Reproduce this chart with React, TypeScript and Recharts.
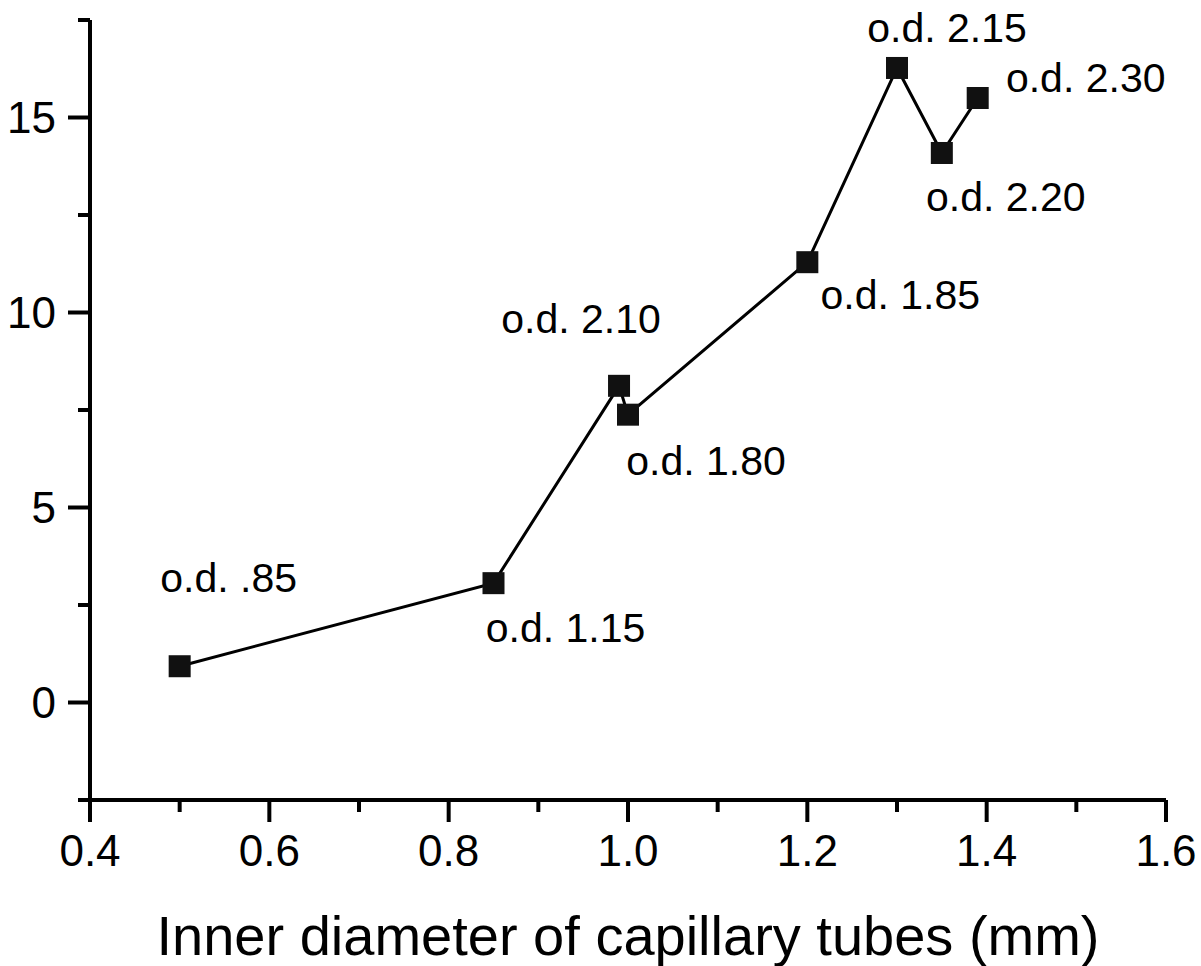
import { LineChart, Line, XAxis, YAxis, Label, LabelList } from 'recharts'

// values
const innerDiameter = [0.5, 0.85, 0.99, 1.0, 1.2, 1.3, 1.35, 1.39]
const values = [0.93, 3.06, 8.12, 7.38, 11.29, 16.27, 14.09, 15.5]
const outerDiameter = [
  'o.d. .85',
  'o.d. 1.15',
  'o.d. 2.10',
  'o.d. 1.80',
  'o.d. 1.85',
  'o.d. 2.15',
  'o.d. 2.20',
  'o.d. 2.30',
]

const xTicks = [0.4, 0.5, 0.6, 0.7, 0.8, 0.9, 1.0, 1.1, 1.2, 1.3, 1.4, 1.5, 1.6]
const yTicks = [-2.5, 0, 2.5, 5, 7.5, 10, 12.5, 15, 17.5]

// where each annotation sits relative to its marker (dx, dy of the baseline centre)
const labelOffsets: [number, number][] = [
  [49, -74],
  [72, 59],
  [-38, -53],
  [78, 60],
  [93, 47],
  [50, -26],
  [64, 58],
  [108, -6],
]

const data = innerDiameter.map((x, i) => ({ x, y: values[i], od: outerDiameter[i] }))

const font = '"Liberation Sans", Arial, Helvetica, sans-serif'

function XTick(props: any) {
  const { x, y, payload } = props
  const v = payload.value as number
  const major = Math.round(v * 10) % 2 === 0
  return (
    <g>
      <line x1={x} y1={y} x2={x} y2={y + (major ? 22 : 12)} stroke="#000" strokeWidth={4} />
      {major && (
        <text x={x} y={y + 66} textAnchor="middle" fontSize={44} fontFamily={font} fill="#000">
          {v.toFixed(1)}
        </text>
      )}
    </g>
  )
}

function YTick(props: any) {
  const { x, y, payload } = props
  const v = payload.value as number
  const major = v % 5 === 0
  return (
    <g>
      <line x1={x} y1={y} x2={x - (major ? 22 : 12)} y2={y} stroke="#000" strokeWidth={4} />
      {major && (
        <text x={x - 34} y={y + 15} textAnchor="end" fontSize={44} fontFamily={font} fill="#000">
          {v}
        </text>
      )}
    </g>
  )
}

function SquareDot(props: any) {
  const { cx, cy, index } = props
  if (cx == null || cy == null) return <g key={`d-${index}`} />
  return <rect key={`d-${index}`} x={cx - 11} y={cy - 11} width={22} height={22} fill="#111" />
}

function OdLabel(props: any) {
  const { x, y, value } = props
  const i = outerDiameter.indexOf(value)
  const [dx, dy] = labelOffsets[i] || [0, 0]
  return (
    <text x={x + dx} y={y + dy} textAnchor="middle" fontSize={41} fontFamily={font} fill="#000">
      {value}
    </text>
  )
}

export default function App() {
  return (
    <div style={{ position: 'absolute', left: 0, top: 0, background: '#fff' }}>
      <LineChart width={1201} height={966} data={data} margin={{ top: 20, right: 35, bottom: 0, left: 0 }}>
        <XAxis
          type="number"
          dataKey="x"
          domain={[0.4, 1.6]}
          ticks={xTicks}
          interval={0}
          allowDataOverflow
          height={166}
          tickSize={0}
          tickMargin={0}
          tickLine={false}
          axisLine={{ stroke: '#000', strokeWidth: 4 }}
          tick={<XTick />}
        >
          <Label
            value="Inner diameter of capillary tubes (mm)"
            position="insideBottom"
            offset={11}
            style={{ fontSize: 56, fontFamily: font, fill: '#000' }}
          />
        </XAxis>
        <YAxis
          type="number"
          domain={[-2.5, 17.5]}
          ticks={yTicks}
          interval={0}
          allowDataOverflow
          width={90}
          tickSize={0}
          tickMargin={0}
          tickLine={false}
          axisLine={{ stroke: '#000', strokeWidth: 4 }}
          tick={<YTick />}
        />
        <Line
          type="linear"
          dataKey="y"
          stroke="#000"
          strokeWidth={3}
          dot={<SquareDot />}
          activeDot={false}
          isAnimationActive={false}
        >
          <LabelList dataKey="od" content={<OdLabel />} />
        </Line>
      </LineChart>
    </div>
  )
}
